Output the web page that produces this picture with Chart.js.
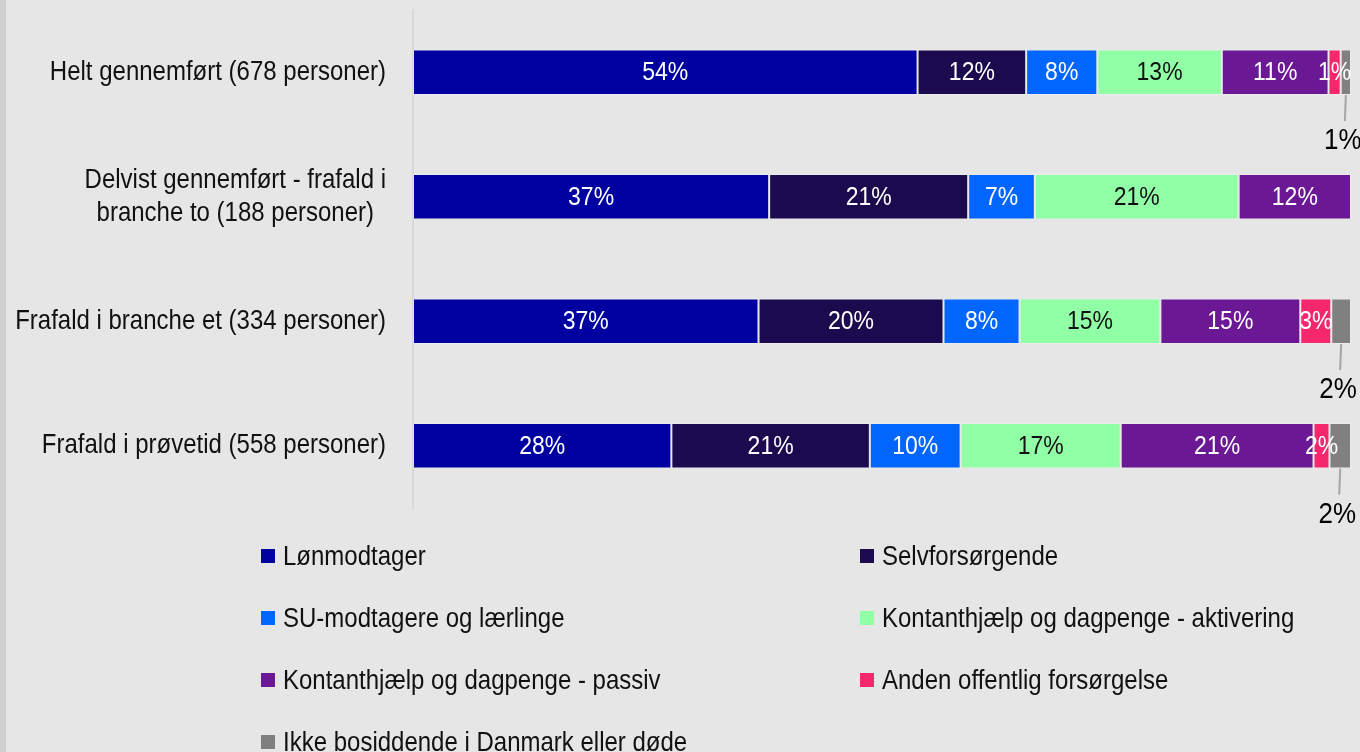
<!DOCTYPE html>
<html>
<head>
<meta charset="utf-8">
<script src="https://cdn.jsdelivr.net/npm/chart.js@4"></script>
<style>
  html, body { margin: 0; padding: 0; background: #e6e6e6; width: 1360px; height: 752px; overflow: hidden; }
  #strip { position: absolute; left: 0; top: 0; width: 6px; height: 752px; background: #d0cfd0; }
  #wrap { position: absolute; left: 0; top: 0; width: 1360px; height: 752px; }
  #legend { position: absolute; left: 0; top: 0; width: 1360px; height: 752px; pointer-events: none;
            font-family: "Liberation Sans", Arial, sans-serif; font-size: 24px; color: #111; }
  .li { position: absolute; display: flex; align-items: center; white-space: nowrap; height: 30px; }
  .box { width: 14px; height: 14px; margin-right: 8px; flex: none; }
  .txt { display: inline-block; transform: scaleY(1.12); transform-origin: 50% 55%; }
</style>
</head>
<body>
<div id="strip"></div>
<div id="wrap"><canvas id="c" width="1360" height="752"></canvas></div>
<div id="legend"></div>
<script>
// ---- data ----
const categories = [
  "Helt gennemført (678 personer)",
  ["Delvist gennemført - frafald i", "branche to (188 personer)"],
  "Frafald i branche et (334 personer)",
  "Frafald i prøvetid (558 personer)"
];
const seriesNames = [
  "Lønmodtager",
  "Selvforsørgende",
  "SU-modtagere og lærlinge",
  "Kontanthjælp og dagpenge - aktivering",
  "Kontanthjælp og dagpenge - passiv",
  "Anden offentlig forsørgelse",
  "Ikke bosiddende i Danmark eller døde"
];
const seriesColors = ["#0000a0", "#1c0a4e", "#0066ff", "#90ffa6", "#6b1894", "#f5286e", "#808080"];
const labelColors  = ["#ffffff", "#ffffff", "#ffffff", "#111111", "#ffffff", "#ffffff", "#111111"];
// percentages per series, one value per category
const lonmodtager   = [53.9, 37.4, 36.8, 27.6];
const selvforsorg   = [11.6, 20.9, 19.7, 21.2];
const suModtagere   = [7.6, 7.0, 8.1, 9.7];
const kontAktiv     = [13.3, 21.4, 15.0, 17.1];
const kontPassiv    = [11.4, 11.8, 14.9, 20.6];
const andenOffent   = [1.3, 0, 3.3, 1.7];
const ikkeBosidd    = [1.1, 0, 2.1, 2.3];
const seriesValues = [lonmodtager, selvforsorg, suModtagere, kontAktiv, kontPassiv, andenOffent, ikkeBosidd];

// 100% stacked: normalise each category to its total
const totals = categories.map((_, i) => seriesValues.reduce((s, arr) => s + arr[i], 0));
const datasets = seriesNames.map((name, k) => ({
  label: name,
  data: seriesValues[k].map((v, i) => v / totals[i] * 100),
  raw: seriesValues[k],
  backgroundColor: seriesColors[k],
  borderColor: "rgba(255,255,255,0.22)",
  borderWidth: 1,
  borderSkipped: false,
  categoryPercentage: 1,
  barPercentage: 0.365
}));

const FONT = '"Liberation Sans", Arial, sans-serif';
const SY = 1.12; // vertical stretch of the reference lettering

function stretchedText(ctx, txt, x, y) {
  ctx.save();
  ctx.translate(x, y);
  ctx.scale(1, SY);
  ctx.fillText(txt, 0, 0);
  ctx.restore();
}

const labelPlugin = {
  id: "labels",
  afterDatasetsDraw(chart) {
    const ctx = chart.ctx;
    ctx.save();
    ctx.textBaseline = "middle";
    ctx.textAlign = "center";
    const last = chart.data.datasets.length - 1;
    chart.data.datasets.forEach((ds, k) => {
      const meta = chart.getDatasetMeta(k);
      meta.data.forEach((bar, i) => {
        const raw = ds.raw[i];
        if (!raw) return;
        const txt = Math.round(raw) + "%";
        const cx = (bar.x + bar.base) / 2;
        if (k === last) {
          const bottom = bar.y + bar.height / 2;
          ctx.strokeStyle = "#a6a6a6";
          ctx.lineWidth = 2;
          ctx.beginPath();
          ctx.moveTo(cx, bottom);
          ctx.lineTo(cx - 1, bottom + 26);
          ctx.stroke();
          ctx.fillStyle = "#000";
          ctx.font = "26px " + FONT;
          stretchedText(ctx, txt, cx - 3, bottom + 46);
        } else {
          ctx.fillStyle = labelColors[k];
          ctx.font = "23px " + FONT;
          stretchedText(ctx, txt, cx, bar.y + 1);
        }
      });
    });
    ctx.restore();
  }
};

const yLabelPlugin = {
  id: "ylabels",
  afterDraw(chart) {
    const ctx = chart.ctx;
    const sc = chart.scales.y;
    ctx.save();
    ctx.font = "24px " + FONT;
    ctx.fillStyle = "#111";
    ctx.textBaseline = "middle";
    ctx.textAlign = "center";
    const right = 386, lh = 33;
    categories.forEach((c, i) => {
      const lines = Array.isArray(c) ? c : [c];
      const w = Math.max(...lines.map(l => ctx.measureText(l).width));
      const cxx = right - w / 2;
      const yc = sc.getPixelForValue(i);
      lines.forEach((l, j) => {
        stretchedText(ctx, l, cxx, yc + (j - (lines.length - 1) / 2) * lh);
      });
    });
    ctx.restore();
  }
};

new Chart(document.getElementById("c"), {
  type: "bar",
  data: { labels: categories, datasets },
  options: {
    indexAxis: "y",
    responsive: false,
    animation: false,
    events: [],
    layout: { padding: { left: 0, right: 9, top: 10, bottom: 244 } },
    plugins: { legend: { display: false }, tooltip: { enabled: false } },
    scales: {
      x: { stacked: true, min: 0, max: 100, display: false },
      y: {
        stacked: true,
        ticks: { display: false },
        grid: { display: false },
        border: { display: true, color: "#d8d8d8", width: 2 },
        afterFit(s) { s.width = 413; }
      }
    }
  },
  plugins: [labelPlugin, yLabelPlugin]
});

// HTML legend, two columns
const leg = document.getElementById("legend");
const colX = [261, 860];
const rowY = [556, 618, 680, 742];
seriesNames.forEach((n, k) => {
  const d = document.createElement("div");
  d.className = "li";
  d.style.left = colX[k % 2] + "px";
  d.style.top = (rowY[Math.floor(k / 2)] - 15) + "px";
  const b = document.createElement("span");
  b.className = "box";
  b.style.background = seriesColors[k];
  const t = document.createElement("span");
  t.className = "txt";
  t.textContent = n;
  d.appendChild(b); d.appendChild(t);
  leg.appendChild(d);
});
</script>
</body>
</html>
